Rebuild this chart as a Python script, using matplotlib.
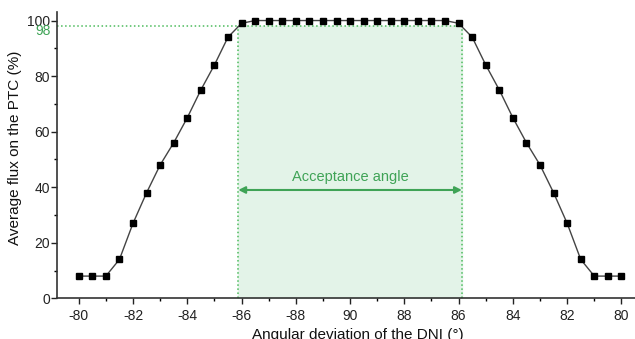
import numpy as np
import matplotlib
matplotlib.use("Agg")
import matplotlib.pyplot as plt
from matplotlib.ticker import MultipleLocator

plt.rcParams['font.family'] = ['Liberation Sans', 'DejaVu Sans']

# position along the sweep (0 .. 20, step 0.5) and average flux (%)
pos = np.arange(0, 20.5, 0.5)
flux = [8, 8, 8, 14, 27, 38, 48, 56, 65, 75, 84, 94, 99,
        100, 100, 100, 100, 100, 100, 100, 100, 100, 100, 100, 100, 100, 100, 100,
        99, 94, 84, 75, 65, 56, 48, 38, 27, 14, 8, 8, 8]
tick_pos = [0, 2, 4, 6, 8, 10, 12, 14, 16, 18, 20]
tick_lab = ['-80', '-82', '-84', '-86', '-88', '90', '88', '86', '84', '82', '80']

# acceptance band (where the curve crosses 98 %)
acc_lo, acc_hi = 5.88, 14.12
acc_level = 98

green = '#3fa356'
fig = plt.figure(figsize=(6.35, 3.39), dpi=100)
ax = fig.add_axes([0.0898, 0.12, 0.9102, 0.844])

ax.fill_between([acc_lo, acc_hi], 0, acc_level, color='#e3f3e8', zorder=0)
ax.plot([acc_lo, acc_lo], [0, acc_level], ls=':', color='#4cbb5c', lw=1.1, zorder=1)
ax.plot([acc_hi, acc_hi], [0, acc_level], ls=':', color='#4cbb5c', lw=1.1, zorder=1)
ax.plot([-0.8, acc_hi], [acc_level, acc_level], ls=':', color='#4cbb5c', lw=1.1, zorder=1)

ax.annotate('', xy=(acc_lo, 39), xytext=(acc_hi, 39),
            arrowprops=dict(arrowstyle='<|-|>', color=green, lw=1.5,
                            mutation_scale=10, shrinkA=0, shrinkB=0))
ax.text((acc_lo + acc_hi) / 2, 43.5, 'Acceptance angle', color=green,
        ha='center', va='center', fontsize=10.5)

ax.plot(pos, flux, color='#444444', lw=1, marker='s', markersize=4.6,
        markerfacecolor='black', markeredgecolor='black', zorder=3)

ax.set_xlim(-0.8, 20.5)
ax.set_ylim(0, 103)
ax.set_xticks(tick_pos)
ax.set_xticklabels(tick_lab)
ax.xaxis.set_minor_locator(MultipleLocator(1))
ax.set_yticks([0, 20, 40, 60, 80, 100])
ax.yaxis.set_minor_locator(MultipleLocator(10))
ax.tick_params(axis='both', which='major', direction='out', length=4, width=1,
               labelsize=10, colors='#222222')
ax.tick_params(axis='both', which='minor', direction='out', length=2.5, width=1)
ax.tick_params(axis='x', pad=4)
ax.tick_params(axis='y', pad=1)

ax.text(-0.011, 96.2, '98', color=green, fontsize=10, ha='right', va='center',
        transform=ax.get_yaxis_transform())

for s in ['top', 'right']:
    ax.spines[s].set_visible(False)
for s in ['left', 'bottom']:
    ax.spines[s].set_color('#333333')
    ax.spines[s].set_linewidth(1.2)

ax.set_xlabel('Angular deviation of the DNI (°)', fontsize=11, color='#111111')
ax.xaxis.set_label_coords(0.52, -0.105)
ax.set_ylabel('Average flux on the PTC (%)', fontsize=11, color='#111111')
ax.yaxis.set_label_coords(-0.06, 0.527)

fig.savefig('out.png', dpi=100)
